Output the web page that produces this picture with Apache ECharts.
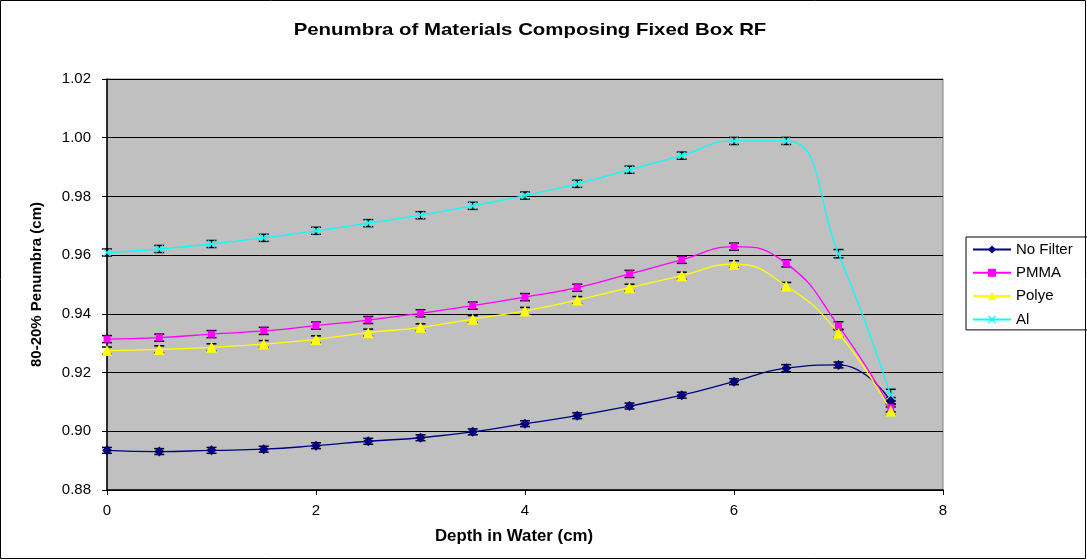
<!DOCTYPE html>
<html>
<head>
<meta charset="utf-8">
<script src="https://cdn.jsdelivr.net/npm/echarts@6/dist/echarts.min.js"></script>
<style>html,body{margin:0;padding:0;background:#fff}#c{width:1087px;height:560px}</style>
</head>
<body>
<div id="c"></div>
<script>
const depth = [0, 0.5, 1, 1.5, 2, 2.5, 3, 3.5, 4, 4.5, 5, 5.5, 6, 6.5, 7, 7.5];
const noFilter = [0.8935, 0.8931, 0.8935, 0.8939, 0.8951, 0.8966, 0.8978, 0.8998, 0.9026, 0.9053, 0.9086, 0.9123, 0.9169, 0.9215, 0.9226, 0.9103];
const pmma = [0.9314, 0.9319, 0.9331, 0.9342, 0.9360, 0.9379, 0.9402, 0.9428, 0.9457, 0.9489, 0.9536, 0.9584, 0.9629, 0.9572, 0.9359, 0.9080];
const polye = [0.9275, 0.9279, 0.9286, 0.9297, 0.9313, 0.9336, 0.9354, 0.9382, 0.9410, 0.9447, 0.9489, 0.9530, 0.9569, 0.9495, 0.9334, 0.9069];
const al = [0.9609, 0.9621, 0.9638, 0.9659, 0.9683, 0.9709, 0.9736, 0.9768, 0.9803, 0.9843, 0.9891, 0.9939, 0.9989, 0.9989, 0.9605, 0.9123];
const errNoFilter = [0.0010, 0.0010, 0.0010, 0.0010, 0.0010, 0.0010, 0.0010, 0.0010, 0.0010, 0.0010, 0.0010, 0.0010, 0.0010, 0.0012, 0.0010, 0.0012];
const errPmma = [0.0012, 0.0012, 0.0012, 0.0012, 0.0012, 0.0012, 0.0012, 0.0012, 0.0012, 0.0012, 0.0012, 0.0012, 0.0012, 0.0012, 0.0014, 0.0014];
const errPolye = [0.0012, 0.0012, 0.0012, 0.0012, 0.0012, 0.0012, 0.0012, 0.0012, 0.0012, 0.0012, 0.0012, 0.0012, 0.0012, 0.0012, 0.0014, 0.0014];
const errAl = [0.0012, 0.0012, 0.0012, 0.0012, 0.0012, 0.0012, 0.0012, 0.0012, 0.0012, 0.0012, 0.0012, 0.0012, 0.0012, 0.0012, 0.0014, 0.0020];
const seriesNames = ['No Filter', 'PMMA', 'Polye', 'Al'];
const yTicks = [0.88, 0.90, 0.92, 0.94, 0.96, 0.98, 1.00, 1.02];
const xTicks = [0, 2, 4, 6, 8];
const titleText = 'Penumbra of Materials Composing Fixed Box RF';
const xAxisTitle = 'Depth in Water (cm)';
const yAxisTitle = '80-20% Penumbra (cm)';

const FONT = '"Liberation Sans", Arial, sans-serif';
const xSymbol = 'path://M0,1 L1,0 L5,4 L9,0 L10,1 L6,5 L10,9 L9,10 L5,6 L1,10 L0,9 L4,5 Z';
const styles = [
  {color: '#000080', symbol: 'diamond', size: 10},
  {color: '#FF00FF', symbol: 'rect', size: 7},
  {color: '#FFFF00', symbol: 'triangle', size: 11},
  {color: '#00FFFF', symbol: xSymbol, size: 8}
];
const vals = [noFilter, pmma, polye, al];
const errs = [errNoFilter, errPmma, errPolye, errAl];

const series = [];
vals.forEach((v, i) => {
  const errData = depth.map((d, k) => [d, v[k] - errs[i][k], v[k] + errs[i][k]]);
  series.push({
    type: 'custom',
    name: seriesNames[i] + ' err',
    z: 3,
    silent: true,
    data: errData,
    encode: {x: 0, y: [1, 2]},
    renderItem: function (params, api) {
      const lo = api.coord([api.value(0), api.value(1)]);
      const hi = api.coord([api.value(0), api.value(2)]);
      const w = 5;
      return {
        type: 'group',
        children: [
          {type: 'line', shape: {x1: lo[0], y1: lo[1], x2: hi[0], y2: hi[1]}, style: {stroke: '#000', lineWidth: 1}},
          {type: 'line', shape: {x1: lo[0] - w, y1: lo[1], x2: lo[0] + w, y2: lo[1]}, style: {stroke: '#000', lineWidth: 1.5}},
          {type: 'line', shape: {x1: hi[0] - w, y1: hi[1], x2: hi[0] + w, y2: hi[1]}, style: {stroke: '#000', lineWidth: 1.5}}
        ]
      };
    }
  });
});
vals.forEach((v, i) => {
  series.push({
    type: 'line',
    name: seriesNames[i],
    z: 4,
    data: depth.map((d, k) => [d, v[k]]),
    smooth: 0.5,
    symbol: styles[i].symbol,
    symbolSize: styles[i].size,
    showAllSymbol: true,
    lineStyle: {color: styles[i].color, width: 1.3},
    itemStyle: {color: styles[i].color, borderWidth: 0},
    emphasis: {disabled: true}
  });
});

const chart = echarts.init(document.getElementById('c'), null, {renderer: 'canvas'});
chart.setOption({
  animation: false,
  backgroundColor: '#fff',
  grid: {
    left: 107, right: 144, top: 79, bottom: 70,
    show: true, backgroundColor: '#C0C0C0', borderColor: '#808080', borderWidth: 1
  },
  legend: {
    orient: 'vertical',
    left: 966, top: 237,
    data: seriesNames,
    itemWidth: 38, itemHeight: 10, itemGap: 8.3,
    padding: [5, 40, 3, 6],
    borderColor: '#000', borderWidth: 1,
    backgroundColor: '#fff',
    textStyle: {fontFamily: FONT, fontSize: 15, color: '#000'},
    selectedMode: false
  },
  xAxis: {
    type: 'value', min: 0, max: 8, interval: 2,
    axisLine: {show: true, onZero: false, lineStyle: {color: '#000', width: 1.5}},
    axisTick: {show: true, length: 5, lineStyle: {color: '#000'}},
    axisLabel: {fontFamily: FONT, fontSize: 15, color: '#000', margin: 13},
    splitLine: {show: false}
  },
  yAxis: {
    type: 'value', min: 0.88, max: 1.02, interval: 0.02,
    name: yAxisTitle, nameLocation: 'middle', nameGap: 63,
    nameTextStyle: {fontFamily: FONT, fontSize: 15, fontWeight: 'bold', color: '#000'},
    axisLine: {show: true, onZero: false, lineStyle: {color: '#000', width: 1.5}},
    axisTick: {show: true, length: 5, lineStyle: {color: '#000'}},
    axisLabel: {fontFamily: FONT, fontSize: 15, color: '#000', margin: 16,
      formatter: v => v.toFixed(2)},
    splitLine: {show: true, lineStyle: {color: '#000', width: 1}}
  },
  graphic: [
    {
      type: 'text', silent: true, x: 530, y: 30, scaleX: 1.2,
      style: {text: titleText, fill: '#000', align: 'center', verticalAlign: 'middle',
        font: 'bold 17px ' + FONT}
    },
    {
      type: 'text', silent: true, x: 514, y: 537, scaleX: 1.05,
      style: {text: xAxisTitle, fill: '#000', align: 'center', verticalAlign: 'middle',
        font: 'bold 16px ' + FONT}
    },
    {
      type: 'rect', silent: true, z: 100,
      shape: {x: 0.5, y: 0.5, width: 1085, height: 558},
      style: {fill: 'none', stroke: '#000', lineWidth: 1}
    }
  ],
  series: series
});
</script>
</body>
</html>
